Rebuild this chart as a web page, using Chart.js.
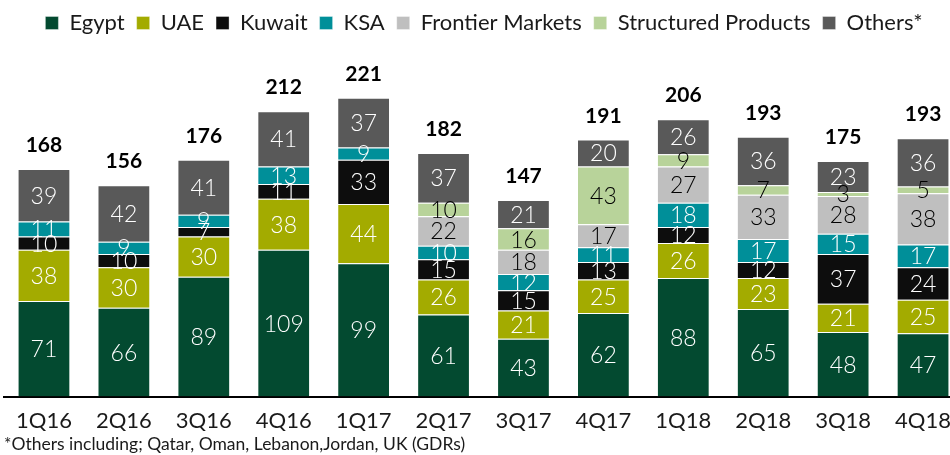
<!DOCTYPE html>
<html>
<head>
<meta charset="utf-8">
<script src="https://cdn.jsdelivr.net/npm/chart.js@4.4.1/dist/chart.umd.min.js"></script>
<style>
html,body{margin:0;padding:0;background:#fff;overflow:hidden;}
#wrap{position:relative;width:964px;height:461px;}
</style>
</head>
<body>
<div id="wrap"><canvas id="c"></canvas></div>
<script>
const categories = ['1Q16','2Q16','3Q16','4Q16','1Q17','2Q17','3Q17','4Q17','1Q18','2Q18','3Q18','4Q18'];
const egypt      = [71, 66, 89, 109, 99, 61, 43, 62, 88, 65, 48, 47];
const uae        = [38, 30, 30, 38, 44, 26, 21, 25, 26, 23, 21, 25];
const kuwait     = [10, 10, 7, 11, 33, 15, 15, 13, 12, 12, 37, 24];
const ksa        = [11, 9, 9, 13, 9, 10, 12, 11, 18, 17, 15, 17];
const frontier   = [0, 0, 0, 0, 0, 22, 18, 17, 27, 33, 28, 38];
const structured = [0, 0, 0, 0, 0, 10, 16, 43, 9, 7, 3, 5];
const others     = [39, 42, 41, 41, 37, 37, 21, 20, 26, 36, 23, 36];
const totals     = [168, 156, 176, 212, 221, 182, 147, 191, 206, 193, 175, 193];
const footnote   = '*Others including; Qatar, Oman, Lebanon,Jordan, UK (GDRs)';

const FONT = 'Lato, "DejaVu Sans", sans-serif';
const seriesDefs = [
  {label:'Egypt', data:egypt, color:'#034a30', text:'#ffffff'},
  {label:'UAE', data:uae, color:'#a3ab00', text:'#ffffff'},
  {label:'Kuwait', data:kuwait, color:'#0d0d0d', text:'#ffffff'},
  {label:'KSA', data:ksa, color:'#008f99', text:'#ffffff'},
  {label:'Frontier Markets', data:frontier, color:'#bfbfbf', text:'#000000'},
  {label:'Structured Products', data:structured, color:'#b8d39a', text:'#000000'},
  {label:'Others*', data:others, color:'#595959', text:'#ffffff'}
];

const labelPlugin = {
  id:'segLabels',
  afterDatasetsDraw(chart){
    const ctx = chart.ctx;
    ctx.save();
    ctx.textAlign = 'center';
    ctx.textBaseline = 'middle';
    ctx.font = '300 23px ' + FONT;
    chart.data.datasets.forEach((ds, di) => {
      const meta = chart.getDatasetMeta(di);
      meta.data.forEach((el, i) => {
        const v = ds.data[i];
        if (!v) return;
        ctx.fillStyle = seriesDefs[di].text;
        ctx.fillText(String(v), el.x, (el.y + el.base) / 2 + 1);
      });
    });
    // totals
    ctx.font = 'bold 21px ' + FONT;
    ctx.fillStyle = '#000';
    ctx.textBaseline = 'alphabetic';
    categories.forEach((c, i) => {
      let top = Infinity, x = 0;
      chart.data.datasets.forEach((ds, di) => {
        const el = chart.getDatasetMeta(di).data[i];
        if (el && ds.data[i]) { top = Math.min(top, el.y); x = el.x; }
      });
      ctx.fillText(String(totals[i]), x, top - 17);
    });
    ctx.restore();
  }
};

new Chart(document.getElementById('c'), {
  type:'bar',
  data:{
    labels:categories,
    datasets:seriesDefs.map(s => ({
      label:s.label, data:s.data, backgroundColor:s.color,
      borderColor:'rgba(255,255,255,0.35)', borderWidth:1,
      categoryPercentage:1.0, barPercentage:0.66
    }))
  },
  options:{
    responsive:true, maintainAspectRatio:false, animation:false,
    layout:{padding:{left:4, right:0, top:0, bottom:0}},
    plugins:{
      legend:{
        position:'top',
        labels:{boxWidth:13, boxHeight:13, padding:12, color:'#1a1a1a',
          font:{family:FONT, size:22}}
      },
      subtitle:{
        display:true, position:'bottom', align:'start', text:footnote,
        color:'#1a1a1a', font:{family:FONT, size:17.5, lineHeight:1.0}, padding:{top:-9, bottom:8}
      },
      tooltip:{enabled:false}
    },
    scales:{
      x:{stacked:true,
        grid:{display:false, drawTicks:false},
        border:{display:true, color:'#000', width:2},
        ticks:{color:'#1a1a1a', font:{family:FONT, size:22, lineHeight:1.0}, padding:13}
      },
      y:{stacked:true, display:false, min:0, max:262}
    }
  },
  plugins:[labelPlugin]
});
</script>
</body>
</html>
